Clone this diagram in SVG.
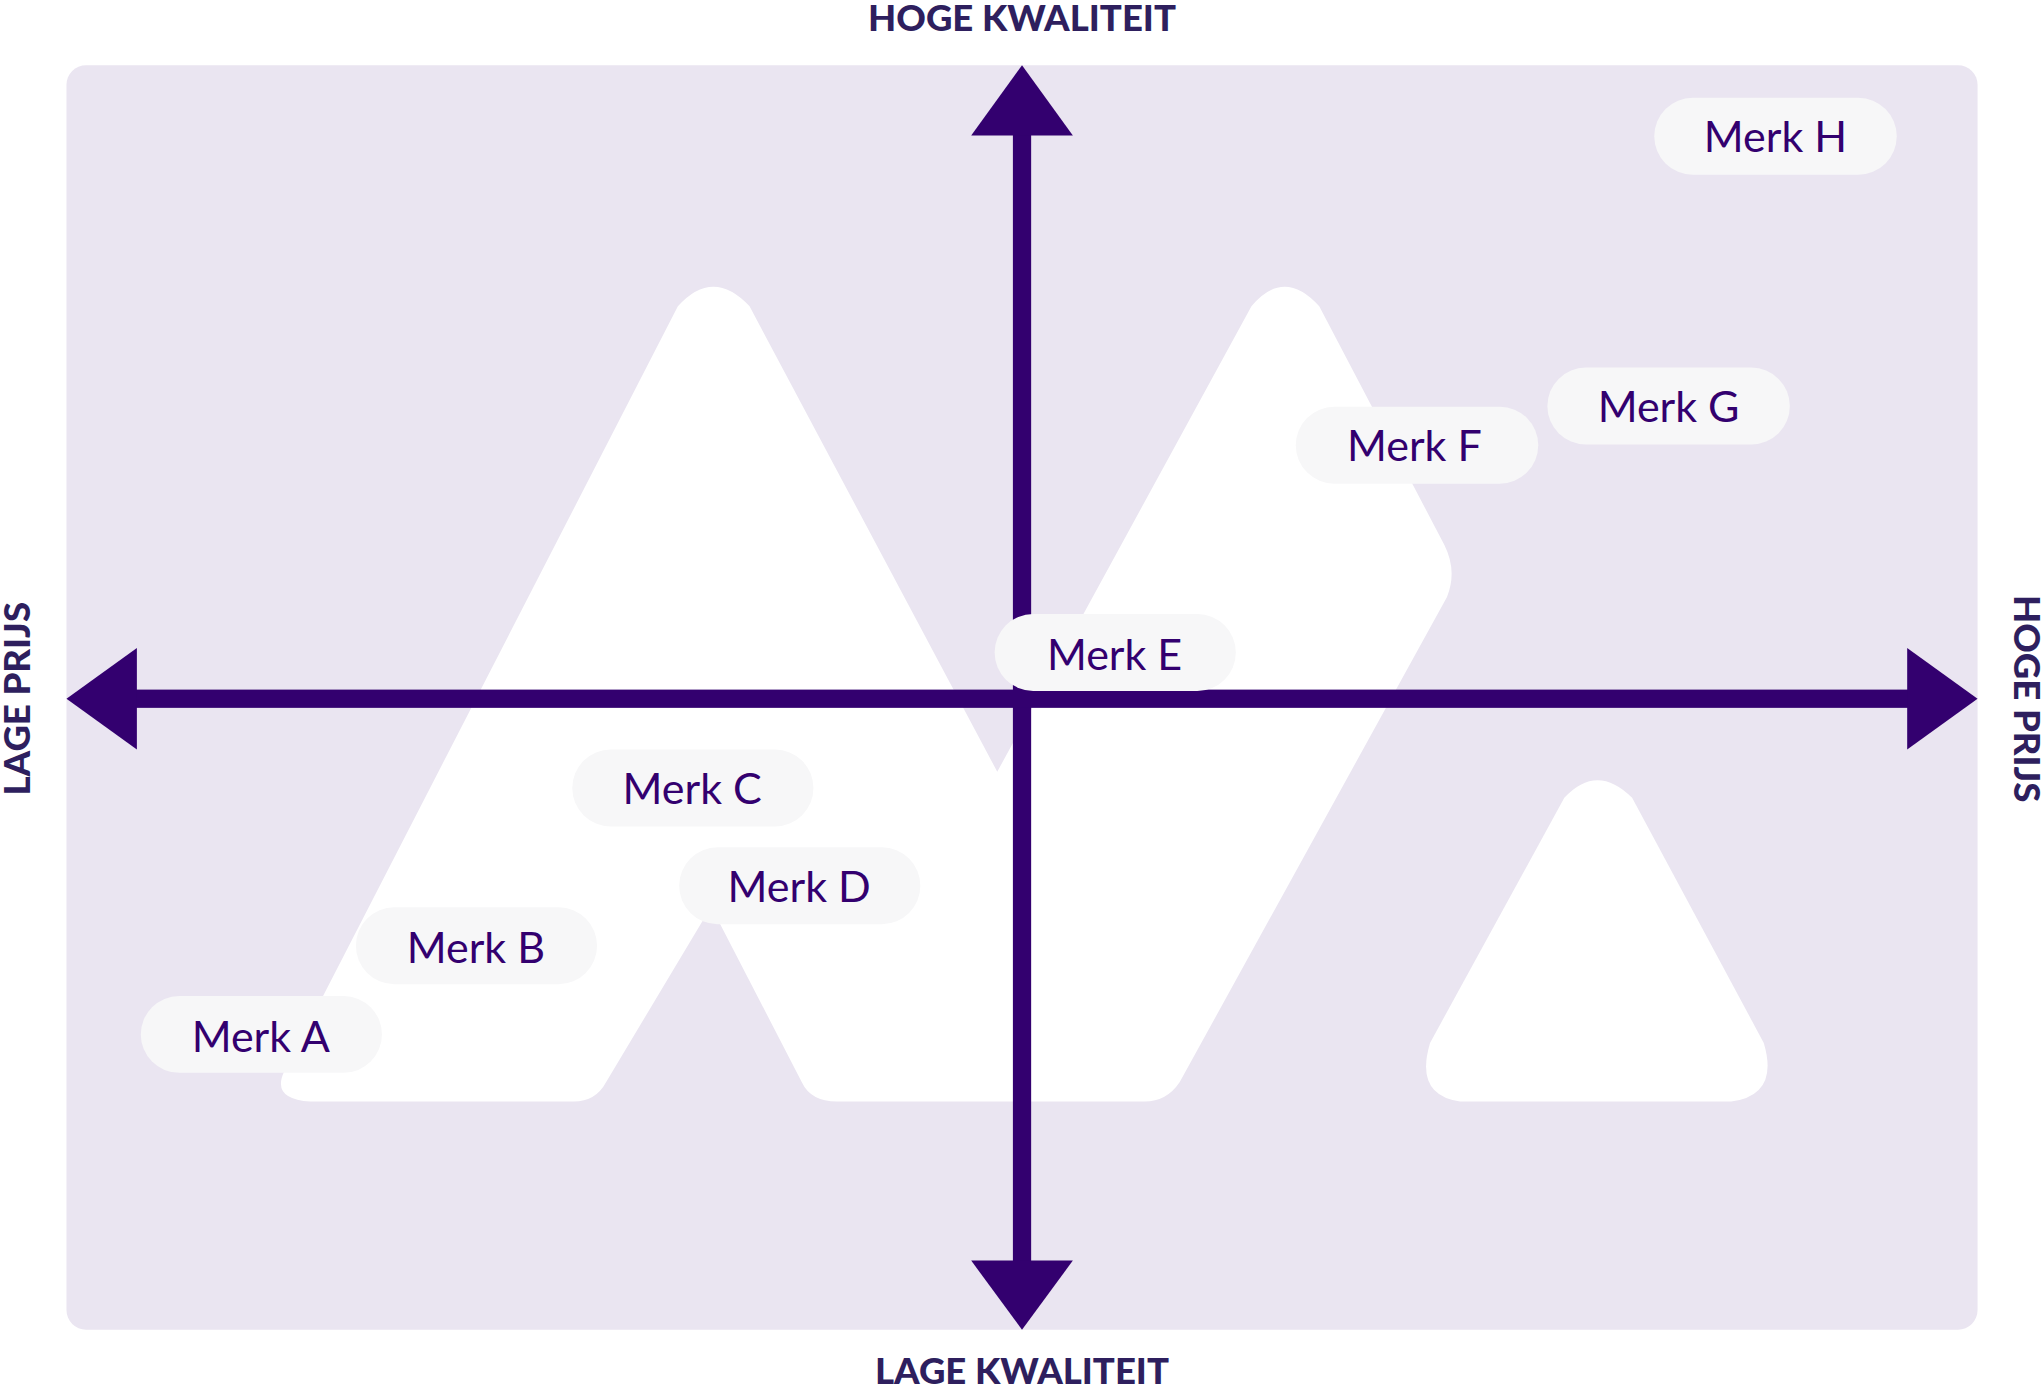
<svg xmlns="http://www.w3.org/2000/svg" width="2044" height="1389" viewBox="0 0 2044 1389">
<style>
.pill{fill:#f7f7f8}
.lbl{font-family:Lato,"Open Sans",sans-serif;font-size:33px;fill:#33006f;text-anchor:middle;dominant-baseline:central}
.ax{font-family:Lato,"Open Sans",sans-serif;font-weight:900;font-size:28px;fill:#2e1f5e;text-anchor:middle}
.axis{fill:#33006f}
</style>
<rect width="2044" height="1389" fill="#fff"/>
<g transform="scale(1.3036)">
<rect id="panel" x="51" y="50" width="1466" height="970" rx="15" fill="#eae5f1"/>
<g id="shapes" fill="#fff">
<path d="M520,235 Q547,205 575,235 L765,592 L960,235 Q985,205 1012,235 L1108,418 Q1118,438 1110,458 L905,830 Q895,845 878,845 L642,845 Q622,845 615,830 L552,708 Q545,695 538,708 L465,830 Q457,845 440,845 L238,845 Q208,843 218,822 Z"/>
<path d="M1200,612 Q1225,585 1252,612 L1353,800 Q1365,840 1328,845 L1120,845 Q1085,840 1097,800 Z"/>
</g>
<g id="connectors">
<rect class="axis" x="777" y="100" width="14" height="870"/>
<polygon class="axis" points="784,50 823,104 745,104"/>
<polygon class="axis" points="784,1020 823,967 745,967"/>
<rect class="axis" x="100" y="529" width="1367" height="14"/>
<polygon class="axis" points="51,536 105,497 105,575"/>
<polygon class="axis" points="1517,536 1463,497 1463,575"/>
</g>
<g id="axis-labels">
<text class="ax" x="784" y="24">HOGE KWALITEIT</text>
<text class="ax" x="784" y="1062">LAGE KWALITEIT</text>
<text class="ax" transform="translate(23,536) rotate(-90)">LAGE PRIJS</text>
<text class="ax" transform="translate(1545,536) rotate(90)">HOGE PRIJS</text>
</g>
<g id="merk-e"><rect class="pill" x="763" y="471" width="185" height="59" rx="29.5"/><text class="lbl" x="855" y="501">Merk E</text></g>
<g id="merk-a"><rect class="pill" x="108" y="764" width="185" height="59" rx="29.5"/><text class="lbl" x="200" y="794">Merk A</text></g>
<g id="merk-b"><rect class="pill" x="273" y="696" width="185" height="59" rx="29.5"/><text class="lbl" x="365" y="726">Merk B</text></g>
<g id="merk-c"><rect class="pill" x="439" y="575" width="185" height="59" rx="29.5"/><text class="lbl" x="531" y="604">Merk C</text></g>
<g id="merk-d"><rect class="pill" x="521" y="650" width="185" height="59" rx="29.5"/><text class="lbl" x="613" y="679">Merk D</text></g>
<g id="merk-f"><rect class="pill" x="994" y="312" width="186" height="59" rx="29.5"/><text class="lbl" x="1085" y="341">Merk F</text></g>
<g id="merk-g"><rect class="pill" x="1187" y="282" width="186" height="59" rx="29.5"/><text class="lbl" x="1280" y="311">Merk G</text></g>
<g id="merk-h"><rect class="pill" x="1269" y="75" width="186" height="59" rx="29.5"/><text class="lbl" x="1362" y="104">Merk H</text></g>
</g>
</svg>
